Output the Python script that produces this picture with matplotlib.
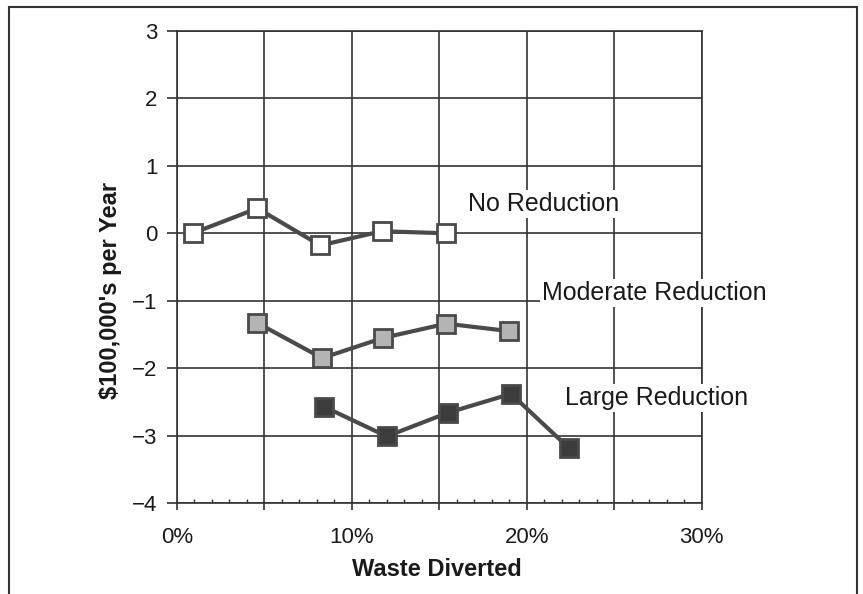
import matplotlib.pyplot as plt
from matplotlib.patches import Rectangle
from matplotlib.ticker import MultipleLocator, FuncFormatter

plt.rcParams['font.family'] = ['Liberation Sans', 'DejaVu Sans']

# waste diverted (%) and cost ($100,000's per year)
x_none = [0.9, 4.6, 8.2, 11.7, 15.4]
y_none = [0.0, 0.37, -0.18, 0.03, 0.0]

x_mod = [4.6, 8.3, 11.8, 15.4, 19.0]
y_mod = [-1.33, -1.85, -1.55, -1.34, -1.45]

x_large = [8.4, 12.0, 15.5, 19.1, 22.4]
y_large = [-2.57, -3.01, -2.66, -2.38, -3.18]

labels = ["No Reduction", "Moderate Reduction", "Large Reduction"]
label_pos = [(16.65, 0.43), (20.9, -0.88), (22.2, -2.44)]

fig = plt.figure(figsize=(8.63, 5.94), dpi=100)
ax = fig.add_axes([0.205, 0.153, 0.608, 0.795])

line_col = "#4a4a4a"
txt_col = "#1a1a1a"
series = [(x_none, y_none, "white"),
          (x_mod, y_mod, "#b4b4b4"),
          (x_large, y_large, "#3c3c3c")]
for xs, ys, fc in series:
    ax.plot(xs, ys, color=line_col, lw=3, marker="s", markersize=12.5,
            markerfacecolor=fc, markeredgecolor=line_col, markeredgewidth=2,
            zorder=3)

for txt, (tx, ty) in zip(labels, label_pos):
    ax.text(tx, ty, txt, fontsize=18, color=txt_col, va="center", ha="left",
            clip_on=False, zorder=4,
            bbox=dict(facecolor="white", edgecolor="none", pad=1.5))

ax.set_xlim(0, 30)
ax.set_ylim(-4, 3)
ax.xaxis.set_major_locator(MultipleLocator(5))
ax.xaxis.set_minor_locator(MultipleLocator(1))
ax.yaxis.set_major_locator(MultipleLocator(1))
ax.xaxis.set_major_formatter(FuncFormatter(
    lambda v, p: "%d%%" % v if round(v) % 10 == 0 else ""))
ax.yaxis.set_major_formatter(FuncFormatter(
    lambda v, p: ("\u2212%d" % -v) if v < 0 else "%d" % v))

ax.grid(True, which="major", color="#333333", lw=1.2)
ax.set_axisbelow(True)
for s in ax.spines.values():
    s.set_color("#333333")
    s.set_linewidth(1.2)

ax.tick_params(axis="y", direction="out", length=7, width=1.2, color="#333333",
               labelsize=16, labelcolor=txt_col, pad=7)
ax.tick_params(axis="x", which="major", direction="out", length=5, width=1.2,
               color="#333333", labelsize=16, labelcolor=txt_col, pad=12)
ax.tick_params(axis="x", which="minor", direction="in", length=3, width=1,
               color="#333333")

ax.set_xlabel("Waste Diverted", fontsize=17, fontweight="bold", color=txt_col)
ax.set_ylabel("$100,000's per Year", fontsize=17, fontweight="bold",
              color=txt_col)
ax.xaxis.set_label_coords(0.495, -0.116)
ax.yaxis.set_label_coords(-0.104, 0.45)

# outer frame around the figure
fig.patches.append(Rectangle((9 / 863, -0.01), 848 / 863, 1 - 7 / 594 + 0.01,
                             transform=fig.transFigure, fill=False,
                             edgecolor="#333333", lw=1.5))

fig.savefig("out.png", dpi=100)
plt.close(fig)
